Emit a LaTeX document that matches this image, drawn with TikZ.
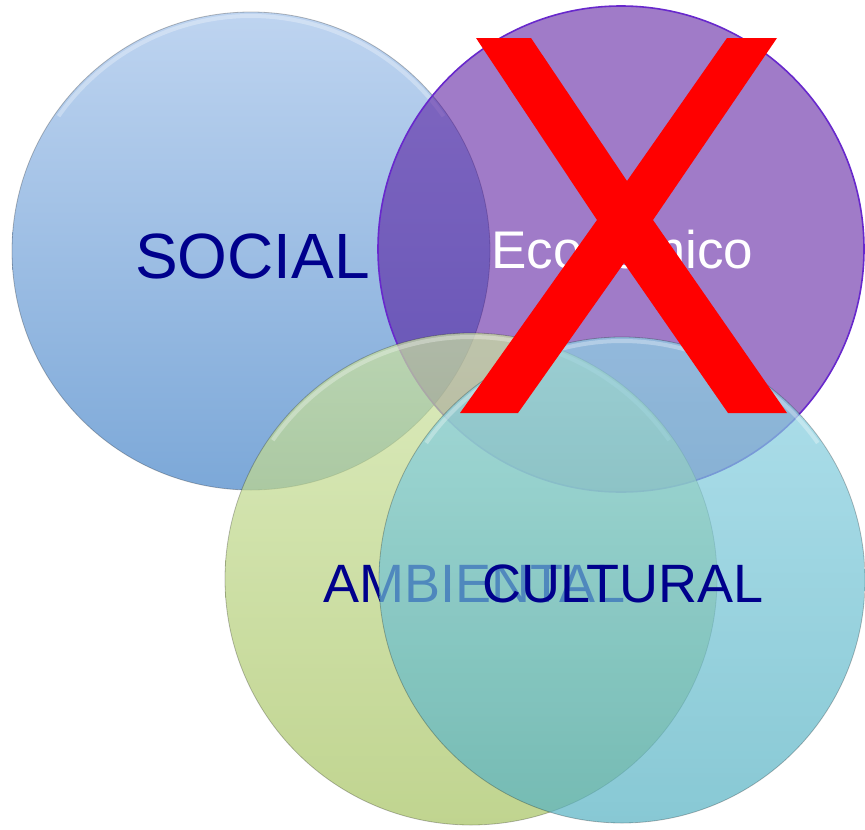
\documentclass[tikz,border=0pt]{standalone}
\usepackage{fontspec}
\setmainfont{Liberation Sans}
\definecolor{socT}{RGB}{190,212,240}
\definecolor{socB}{RGB}{124,168,216}
\definecolor{purp}{RGB}{79,12,153}
\definecolor{purpE}{RGB}{104,40,204}
\definecolor{grnT}{RGB}{204,226,160}
\definecolor{grnB}{RGB}{165,194,96}
\definecolor{cyaT}{RGB}{142,211,228}
\definecolor{cyaB}{RGB}{85,177,194}
\definecolor{navy}{RGB}{0,0,140}
\definecolor{xred}{RGB}{255,0,0}
\begin{document}
\begin{tikzpicture}[x=1pt,y=-1pt,
  lbl/.style={inner sep=0pt, anchor=base west},
  big/.style={font=\fontsize{64}{64}\selectfont},
  mid/.style={font=\fontsize{54}{54}\selectfont},
  eco/.style={font=\fontsize{53}{53}\selectfont},
  rim/.style={draw=black, draw opacity=0.25, line width=0.8pt},
  hl/.style={draw=white, draw opacity=0.3, line width=4pt}]
\useasboundingbox (0,0) rectangle (865,830);
% SOCIAL circle
\shade[top color=socT, bottom color=socB] (251,251) circle (239);
\draw[rim] (251,251) circle (239);
\draw[hl] (251,251) ++(215:235) arc (215:325:235);
\node[lbl, big, text=navy] (social) at (135,278) {SOCIAL};
% ECONOMICO circle
\fill[purp, fill opacity=0.54] (621,249) circle (243);
\draw[purpE, line width=1.6pt] (621,249) circle (243);
\node[lbl, eco, text=white] (econ) at (491,268) {Económico};
% AMBIENTAL circle
\shade[top color=grnT, bottom color=grnB, fill opacity=0.7] (471,579) circle (246);
\draw[rim] (471,579) circle (246);
\draw[hl] (471,579) ++(215:242) arc (215:325:242);
\node[lbl, mid, text=navy] (amb) at (323,602) {AMBIENTAL};
% CULTURAL circle
\shade[top color=cyaT, bottom color=cyaB, fill opacity=0.7] (622,580) circle (243);
\draw[rim] (622,580) circle (243);
\draw[hl] (622,580) ++(215:239) arc (215:325:239);
\node[lbl, mid, text=navy] (cult) at (482,602) {CULTURAL};
% red X
\fill[xred] (476,38) -- (531,38) -- (627,181) -- (727,38) -- (777,38)
  -- (653,220) -- (787,413) -- (728,413) -- (624,263) -- (518,413)
  -- (460,413) -- (597,220) -- cycle;
\end{tikzpicture}
\end{document}
